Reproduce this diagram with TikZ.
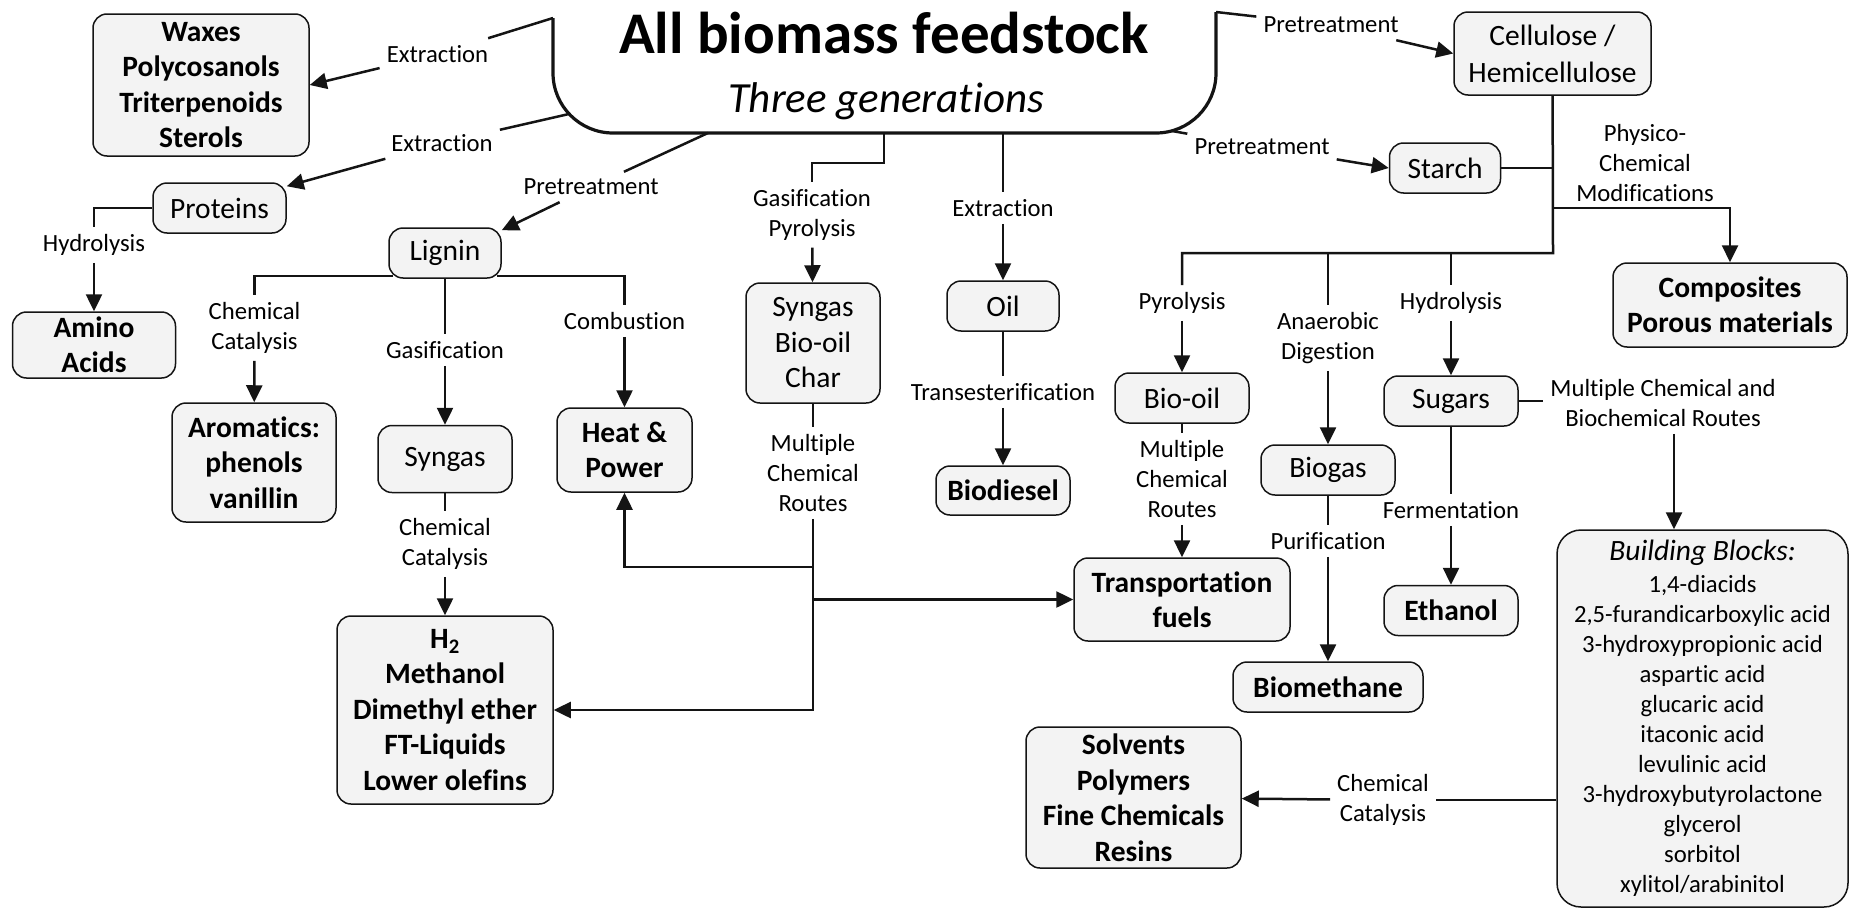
\documentclass[tikz,border=0pt]{standalone}
\usepackage{fontspec}
\setmainfont{Carlito}[Ligatures={NoCommon}]
\usetikzlibrary{arrows.meta}
\definecolor{boxfill}{RGB}{243,243,243}
\definecolor{mydark}{RGB}{20,20,20}
\tikzset{
  box/.style={rectangle, draw=mydark, fill=boxfill, rounded corners=14pt,
    line width=1.5pt, align=center, inner sep=2pt,
    font=\fontsize{29.5}{35.5}\selectfont},
  boldbox/.style={box, font=\fontsize{29.5}{35.5}\selectfont\bfseries},
  lbl/.style={align=center, inner sep=7pt, font=\fontsize{24.7}{30}\selectfont},
  arrow/.style={-{Triangle[length=17pt,width=16pt]}, line width=2.5pt, color=mydark},
  line/.style={line width=2.5pt, color=mydark}
}

\begin{document}
\begin{tikzpicture}[x=1pt, y=-1pt]
  \useasboundingbox (0,0) rectangle (1852,910);

  % Feedstock
  \coordinate (tTL) at (553,18);
  \coordinate (tTR) at (1216,12);
  \coordinate (tExt) at (569,114);
  \coordinate (tPre) at (708,133);
  \coordinate (tGas) at (884,133);
  \coordinate (tOil) at (1003,133);
  \coordinate (tSta) at (1172,131);
  \draw[line, line width=3.2pt, rounded corners=60pt] (tTL) -- (tTL |- tGas) -- (tTR |- tGas) -- (tTR);
  \node[font=\fontsize{59}{60}\selectfont\bfseries, anchor=base] (title) at (884,53) {All biomass feedstock};
  \node[font=\fontsize{43}{45}\selectfont\itshape, anchor=base] (subtitle) at (886,112) {Three generations};

  % Extraction products
  \node[boldbox, minimum width=216pt, minimum height=142pt] (waxes) at (201,85) {Waxes\\Polycosanols\\Triterpenoids\\Sterols};
  \node[box, minimum width=133pt, minimum height=50pt] (prot) at (219.5,208) {Proteins};
  \node[boldbox, minimum width=163pt, minimum height=66pt] (amino) at (94,345) {Amino\\Acids};
  \node[lbl] (ext1) at (437.5,54) {Extraction};
  \node[lbl] (ext2) at (442,143) {Extraction};
  \node[lbl] (hyd1) at (94,245) {Hydrolysis};

  % Lignin
  \node[box, minimum width=112pt, minimum height=50pt] (lig) at (445,253) {Lignin};
  \node[lbl] (pre1) at (591,187) {Pretreatment};
  \node[lbl] (cc1) at (254.5,328) {Chemical\\Catalysis};
  \node[lbl] (gas1) at (445,350) {Gasification};
  \node[lbl] (comb) at (624.5,321) {Combustion};
  \node[boldbox, minimum width=164pt, minimum height=119pt] (arom) at (254,462.5) {Aromatics:\\phenols\\vanillin};
  \node[box, minimum width=134pt, minimum height=67pt] (synl) at (445,459) {Syngas};
  \node[boldbox, minimum width=135pt, minimum height=84pt] (hp) at (624.5,450) {Heat \&\\Power};
  \node[lbl] (cc2) at (445,544) {Chemical\\Catalysis};
  \node[boldbox, minimum width=216pt, minimum height=188pt] (h2) at (445,710) {H\textsubscript{2}\\Methanol\\Dimethyl ether\\FT-Liquids\\Lower olefins};

  % Thermochemical and oil
  \node[lbl] (gaspyr) at (812,215) {Gasification\\Pyrolysis};
  \node[box, minimum width=134pt, minimum height=120pt] (sbc) at (813,343) {Syngas\\Bio-oil\\Char};
  \node[lbl] (mcr1) at (813,473) {Multiple\\Chemical\\Routes};
  \node[lbl] (ext3) at (1003,208) {Extraction};
  \node[box, minimum width=112pt, minimum height=50pt] (oil) at (1003,306) {Oil};
  \node[lbl] (trans) at (1003,392) {Transesterification};
  \node[boldbox, minimum width=134pt, minimum height=49pt] (biod) at (1003,490.5) {Biodiesel};
  \node[boldbox, minimum width=216pt, minimum height=83pt] (tf) at (1182,599.5) {Transportation\\fuels};

  % Carbohydrates
  \node[lbl] (pre2) at (1331,25) {Pretreatment};
  \node[lbl] (pre3) at (1262,147) {Pretreatment};
  \node[box, minimum width=197pt, minimum height=83pt, font=\fontsize{29.5}{37}\selectfont] (cell) at (1552.5,53.5) {Cellulose /\\Hemicellulose};
  \node[box, minimum width=111pt, minimum height=50pt] (starch) at (1445,168) {Starch};
  \node[lbl] (phys) at (1645,163) {Physico-\\Chemical\\Modifications};
  \node[boldbox, minimum width=234pt, minimum height=84pt] (comp) at (1730,305) {Composites\\Porous materials};
  \node[lbl] (pyr) at (1182,303) {Pyrolysis};
  \node[lbl] (anae) at (1328,338) {Anaerobic\\Digestion};
  \node[lbl] (hyd2) at (1451,303) {Hydrolysis};
  \node[box, minimum width=134pt, minimum height=50pt] (biooil) at (1182,398) {Bio-oil};
  \node[box, minimum width=134pt, minimum height=50pt] (biogas) at (1328,470) {Biogas};
  \node[box, minimum width=134pt, minimum height=50pt] (sugars) at (1451,401) {Sugars};
  \node[lbl] (mcr2) at (1182,479) {Multiple\\Chemical\\Routes};
  \node[lbl] (puri) at (1328,541) {Purification};
  \node[lbl] (ferm) at (1451,510) {Fermentation};
  \node[boldbox, minimum width=190pt, minimum height=50pt] (biometh) at (1328,687) {Biomethane};
  \node[boldbox, minimum width=134pt, minimum height=50pt] (ethanol) at (1451,610.5) {Ethanol};
  \node[lbl] (mcb) at (1663,403) {Multiple Chemical and\\Biochemical Routes};
  \node[box, rounded corners=24pt, minimum width=291pt, minimum height=377pt, font=\fontsize{24.7}{30}\selectfont] (bb) at (1702.5,718.5)
    {{\fontsize{29.5}{30}\selectfont\itshape Building Blocks:}\\[2pt]
     1,4-diacids\\2,5-furandicarboxylic acid\\3-hydroxypropionic acid\\aspartic acid\\glucaric acid\\itaconic acid\\levulinic acid\\3-hydroxybutyrolactone\\glycerol\\sorbitol\\xylitol/arabinitol};
  \node[lbl] (cc3) at (1383,800) {Chemical\\Catalysis};
  \node[boldbox, minimum width=215pt, minimum height=141pt] (solv) at (1133.5,797.5) {Solvents\\Polymers\\Fine Chemicals\\Resins};

  % Connections: from feedstock
  \draw[line] (tTL) -- (ext1);
  \draw[arrow] (ext1) -- (waxes.east);
  \draw[line] (tExt) -- (ext2);
  \draw[arrow] (ext2) -- ([yshift=-4pt]prot.north east);
  \draw[line] (tPre) -- (pre1);
  \draw[arrow] (pre1) -- ([yshift=-3pt]lig.north east);
  \draw[line] (tGas) -- ++(0,30) -| (gaspyr);
  \draw[arrow] (gaspyr) -- (sbc);
  \draw[line] (tOil) -- (ext3);
  \draw[arrow] (ext3) -- (oil);
  \draw[line] (tSta) -- (pre3);
  \draw[arrow] (pre3) -- (starch.west);
  \draw[line] (tTR) -- (pre2);
  \draw[arrow] (pre2) -- (cell.west);

  % Connections: proteins and lignin
  \draw[line] (prot) -| (hyd1);
  \draw[arrow] (hyd1) -- (amino);
  \draw[line] ([xshift=5pt,yshift=3pt]lig.south west) -| (cc1);
  \draw[line] ([xshift=-5pt,yshift=3pt]lig.south east) -| (comb);
  \draw[line] (lig) -- (gas1);
  \draw[arrow] (cc1) -- (arom);
  \draw[arrow] (gas1) -- (synl);
  \draw[arrow] (comb) -- (hp);
  \draw[line] (synl) -- (cc2);
  \draw[arrow] (cc2) -- (h2);

  % Connections: syngas, bio-oil, char
  \coordinate (jHP) at (813,567);
  \draw[line] (sbc) -- (mcr1);
  \draw[arrow] (mcr1) |- (h2);
  \draw[arrow] (jHP) -| (hp);
  \draw[arrow] (mcr1 |- tf) -- (tf);
  \draw[line] (oil) -- (trans);
  \draw[arrow] (trans) -- (biod);

  % Connections: carbohydrates
  \coordinate (jBot) at (1553,253);
  \coordinate (jComp) at (1553,208);
  \draw[line] (cell) -- (jBot) -| (pyr);
  \draw[line] (starch) -- (starch -| jBot);
  \draw[arrow] (jComp) -| (comp);
  \draw[line] (jBot -| anae) -- (anae);
  \draw[line] (jBot -| hyd2) -- (hyd2);
  \draw[arrow] (pyr) -- (biooil);
  \draw[arrow] (anae) -- (biogas);
  \draw[arrow] (hyd2) -- (sugars);
  \draw[line] (biooil) -- (mcr2);
  \draw[arrow] (mcr2) -- (tf);
  \draw[line] (biogas) -- (puri);
  \draw[arrow] (puri) -- (biometh);
  \draw[line] (sugars) -- (ferm);
  \draw[arrow] (ferm) -- (ethanol);
  \draw[line] (sugars) -- (sugars -| mcb.west);
  \draw[arrow] ([xshift=11pt]mcb.south) -- ([xshift=11pt]mcb.south |- bb.north);
  \draw[line] (bb.west |- cc3) -- (cc3);
  \draw[arrow] (cc3) -- (solv);
\end{tikzpicture}
\end{document}
